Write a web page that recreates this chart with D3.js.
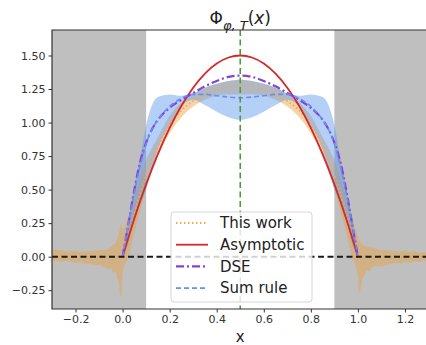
<!DOCTYPE html>
<html>
<head>
<meta charset="utf-8">
<script src="https://cdn.jsdelivr.net/npm/d3@7"></script>
<style>
  html, body { margin: 0; padding: 0; background: #fff; }
  svg { display: block; font-family: "DejaVu Sans", sans-serif; }
</style>
</head>
<body>
<div id="chart"></div>
<script>
// ---- data ----
const xTicks = [-0.2, 0.0, 0.2, 0.4, 0.6, 0.8, 1.0, 1.2];
const yTicks = [-0.25, 0.0, 0.25, 0.5, 0.75, 1.0, 1.25, 1.5];
const shadeSpans = [[-0.3, 0.1], [0.9, 1.3]];

// This work (central value + band), over the whole x range
const twX = [-0.30, -0.28, -0.26, -0.24, -0.22, -0.20, -0.18, -0.16, -0.14, -0.12, -0.10, -0.08, -0.06,
             -0.05, -0.04, -0.03, -0.02, -0.015, -0.01, -0.005, 0.0,
             0.025, 0.05, 0.1, 0.15, 0.2, 0.25, 0.3, 0.35, 0.4, 0.45, 0.5, 0.55, 0.6, 0.65, 0.7, 0.75, 0.8, 0.85, 0.9, 0.95, 0.975,
             1.0, 1.005, 1.01, 1.015, 1.02, 1.03, 1.04, 1.05, 1.06, 1.08, 1.10, 1.12, 1.14, 1.16, 1.18, 1.20, 1.22, 1.24, 1.26, 1.28, 1.30];
const twY = [0, 0, 0, 0, 0, 0, 0, 0, 0, 0, 0, 0, 0,
             0, 0, 0, 0, 0, 0, 0, 0,
             0.15, 0.32, 0.61, 0.82, 0.98, 1.09, 1.16, 1.21, 1.245, 1.265, 1.27, 1.265, 1.245, 1.21, 1.16, 1.09, 0.98, 0.82, 0.61, 0.32, 0.15,
             0, 0, 0, 0, 0, 0, 0, 0, 0, 0, 0, 0, 0, 0, 0, 0, 0, 0, 0, 0, 0];
const twLo = [-0.035, -0.03, -0.04, -0.03, -0.04, -0.045, -0.04, -0.055, -0.05, -0.065, -0.06, -0.075, -0.09,
              -0.085, -0.12, -0.11, -0.17, -0.2, -0.29, -0.3, -0.12,
              0.0, 0.18, 0.5, 0.75, 0.92, 1.04, 1.12, 1.17, 1.2, 1.21, 1.21, 1.21, 1.2, 1.17, 1.12, 1.04, 0.92, 0.75, 0.5, 0.18, 0.0,
              -0.15, -0.27, -0.25, -0.2, -0.16, -0.13, -0.1, -0.11, -0.08, -0.07, -0.075, -0.06, -0.055, -0.045, -0.05, -0.04, -0.045, -0.035, -0.04, -0.03, -0.035];
const twHi = [0.06, 0.05, 0.05, 0.04, 0.04, 0.045, 0.035, 0.04, 0.04, 0.045, 0.05, 0.05, 0.06,
              0.07, 0.09, 0.1, 0.15, 0.18, 0.22, 0.25, 0.2,
              0.3, 0.45, 0.72, 0.89, 1.05, 1.15, 1.21, 1.26, 1.29, 1.31, 1.32, 1.31, 1.29, 1.26, 1.21, 1.15, 1.05, 0.89, 0.72, 0.45, 0.3,
              0.15, 0.12, 0.11, 0.1, 0.09, 0.08, 0.075, 0.07, 0.065, 0.06, 0.05, 0.05, 0.045, 0.04, 0.04, 0.045, 0.035, 0.04, 0.03, 0.035, 0.03];

// Asymptotic
const asX = [0, 0.05, 0.1, 0.15, 0.2, 0.25, 0.3, 0.35, 0.4, 0.45, 0.5, 0.55, 0.6, 0.65, 0.7, 0.75, 0.8, 0.85, 0.9, 0.95, 1.0];
const asY = [0, 0.285, 0.54, 0.765, 0.96, 1.125, 1.26, 1.365, 1.44, 1.485, 1.5, 1.485, 1.44, 1.365, 1.26, 1.125, 0.96, 0.765, 0.54, 0.285, 0];

// DSE and Sum rule share one grid
const gX = [0, 0.025, 0.05, 0.075, 0.1, 0.125, 0.15, 0.2, 0.25, 0.3, 0.35, 0.4, 0.45, 0.5,
            0.55, 0.6, 0.65, 0.7, 0.75, 0.8, 0.85, 0.875, 0.9, 0.925, 0.95, 0.975, 1.0];
const dseY = [0, 0.25, 0.5, 0.71, 0.85, 0.95, 1.02, 1.11, 1.17, 1.22, 1.27, 1.31, 1.34, 1.35,
              1.34, 1.31, 1.27, 1.22, 1.17, 1.11, 1.02, 0.95, 0.85, 0.71, 0.5, 0.25, 0];
const srY = [0, 0.25, 0.48, 0.68, 0.84, 0.95, 1.02, 1.12, 1.18, 1.21, 1.21, 1.2, 1.19, 1.185,
             1.19, 1.2, 1.21, 1.21, 1.18, 1.12, 1.02, 0.95, 0.84, 0.68, 0.48, 0.25, 0];
const srLo = [0, 0.1, 0.28, 0.4, 0.5, 0.66, 0.8, 0.98, 1.12, 1.17, 1.13, 1.08, 1.04, 1.02,
              1.04, 1.08, 1.13, 1.17, 1.12, 0.98, 0.8, 0.66, 0.5, 0.4, 0.28, 0.1, 0];
const srHi = [0, 0.27, 0.52, 0.74, 0.98, 1.13, 1.19, 1.21, 1.2, 1.22, 1.26, 1.29, 1.31, 1.32,
              1.31, 1.29, 1.26, 1.22, 1.2, 1.21, 1.19, 1.13, 0.98, 0.74, 0.52, 0.27, 0];

const legendItems = [
  { label: 'This work', color: '#f2a65a', dash: '1.5,2.5', width: 1.8 },
  { label: 'Asymptotic', color: '#d62728', dash: null, width: 1.8 },
  { label: 'DSE', color: '#8543d6', dash: '8,3,2,3', width: 2.2 },
  { label: 'Sum rule', color: '#6b8cf0', dash: '5,3', width: 1.6 }
];

// ---- layout ----
const width = 426, height = 345;
const mLeft = 52, mTop = 30, mRight = 428.5, mBottom = 309;

const svg = d3.select('#chart').append('svg')
  .attr('width', width)
  .attr('height', height);

const x = d3.scaleLinear().domain([-0.3, 1.3]).range([mLeft, mRight]);
const y = d3.scaleLinear().domain([-0.39, 1.69]).range([mBottom, mTop]);

svg.append('defs').append('clipPath').attr('id', 'plotclip')
  .append('rect')
  .attr('x', mLeft).attr('y', mTop)
  .attr('width', mRight - mLeft).attr('height', mBottom - mTop);

const plot = svg.append('g').attr('clip-path', 'url(#plotclip)');

// grey excluded regions
plot.selectAll('rect.span')
  .data(shadeSpans)
  .enter().append('rect')
  .attr('class', 'span')
  .attr('x', d => x(d[0]))
  .attr('width', d => x(d[1]) - x(d[0]))
  .attr('y', mTop)
  .attr('height', mBottom - mTop)
  .attr('fill', '#bfbfbf');

function zip(xs, ...cols) {
  return xs.map((v, i) => [v].concat(cols.map(c => c[i])));
}

const band = d3.area()
  .x(d => x(d[0]))
  .y0(d => y(d[1]))
  .y1(d => y(d[2]))
  .curve(d3.curveMonotoneX);

const line = d3.line()
  .x(d => x(d[0]))
  .y(d => y(d[1]))
  .curve(d3.curveMonotoneX);

// bands
plot.append('path')
  .datum(zip(twX, twLo, twHi))
  .attr('d', band)
  .attr('fill', '#e8a23c')
  .attr('fill-opacity', 0.45);

plot.append('path')
  .datum(zip(gX, srLo, srHi))
  .attr('d', band)
  .attr('fill', '#5b97ec')
  .attr('fill-opacity', 0.45);

// curves
const series = [
  { pts: zip(twX, twY), style: legendItems[0] },
  { pts: zip(asX, asY), style: legendItems[1] },
  { pts: zip(gX, dseY), style: legendItems[2] },
  { pts: zip(gX, srY), style: legendItems[3] }
];

plot.selectAll('path.curve')
  .data(series)
  .enter().append('path')
  .attr('class', 'curve')
  .attr('d', d => line(d.pts))
  .attr('fill', 'none')
  .attr('stroke', d => d.style.color)
  .attr('stroke-width', d => d.style.width)
  .attr('stroke-dasharray', d => d.style.dash);

// reference lines
plot.append('line')
  .attr('x1', mLeft).attr('x2', mRight)
  .attr('y1', y(0)).attr('y2', y(0))
  .attr('stroke', '#1a1a1a')
  .attr('stroke-width', 2)
  .attr('stroke-dasharray', '6,3.5');

plot.append('line')
  .attr('x1', x(0.5)).attr('x2', x(0.5))
  .attr('y1', mTop).attr('y2', mBottom)
  .attr('stroke', '#4f9a3a')
  .attr('stroke-width', 1.6)
  .attr('stroke-dasharray', '6,3.5');

// axes
const xAxis = d3.axisBottom(x)
  .tickValues(xTicks)
  .tickFormat(d3.format('.1f'))
  .tickSizeInner(3.5)
  .tickSizeOuter(0)
  .tickPadding(3);

const yAxis = d3.axisLeft(y)
  .tickValues(yTicks)
  .tickFormat(d3.format('.2f'))
  .tickSizeInner(3.5)
  .tickSizeOuter(0)
  .tickPadding(3);

const gx = svg.append('g')
  .attr('transform', 'translate(0,' + mBottom + ')')
  .call(xAxis);

const gy = svg.append('g')
  .attr('transform', 'translate(' + mLeft + ',0)')
  .call(yAxis);

[gx, gy].forEach(g => {
  g.select('.domain').remove();
  g.selectAll('.tick line').attr('stroke', '#333').attr('stroke-width', 1);
  g.selectAll('.tick text')
    .attr('fill', '#333')
    .style('font-size', '11px')
    .style('font-family', '"DejaVu Sans", sans-serif');
});

// frame
svg.append('path')
  .attr('d', 'M' + mRight + ',' + mTop + 'H' + mLeft + 'V' + mBottom + 'H' + mRight)
  .attr('fill', 'none')
  .attr('stroke', '#333')
  .attr('stroke-width', 1.2);

// title  Φ_{φ,T}(x)
const title = svg.append('text')
  .attr('x', x(0.5))
  .attr('y', 24)
  .attr('text-anchor', 'middle')
  .style('font-size', '17px')
  .attr('fill', '#222');
title.append('tspan').text('Φ');
title.append('tspan')
  .attr('dy', 6)
  .style('font-size', '13px')
  .style('font-style', 'italic')
  .text('φ, T');
title.append('tspan').attr('dy', -6).text('(');
title.append('tspan').style('font-style', 'italic').text('x');
title.append('tspan').text(')');

// x label
svg.append('text')
  .attr('x', x(0.5))
  .attr('y', 342)
  .attr('text-anchor', 'middle')
  .style('font-size', '15px')
  .attr('fill', '#222')
  .text('x');

// legend
const lg = svg.append('g').attr('transform', 'translate(171,212)');
lg.append('rect')
  .attr('width', 141)
  .attr('height', 90)
  .attr('rx', 3)
  .attr('fill', '#fff')
  .attr('fill-opacity', 0.8)
  .attr('stroke', '#d6d6d6')
  .attr('stroke-width', 1);

const rows = lg.selectAll('g.item')
  .data(legendItems)
  .enter().append('g')
  .attr('class', 'item')
  .attr('transform', (d, i) => 'translate(0,' + (11 + i * 21.7) + ')');

rows.append('line')
  .attr('x1', 5).attr('x2', 37)
  .attr('stroke', d => d.color)
  .attr('stroke-width', d => d.width)
  .attr('stroke-dasharray', d => d.dash);

rows.append('text')
  .attr('x', 49)
  .attr('dy', '0.35em')
  .style('font-size', '15px')
  .attr('fill', '#222')
  .text(d => d.label);
</script>
</body>
</html>
